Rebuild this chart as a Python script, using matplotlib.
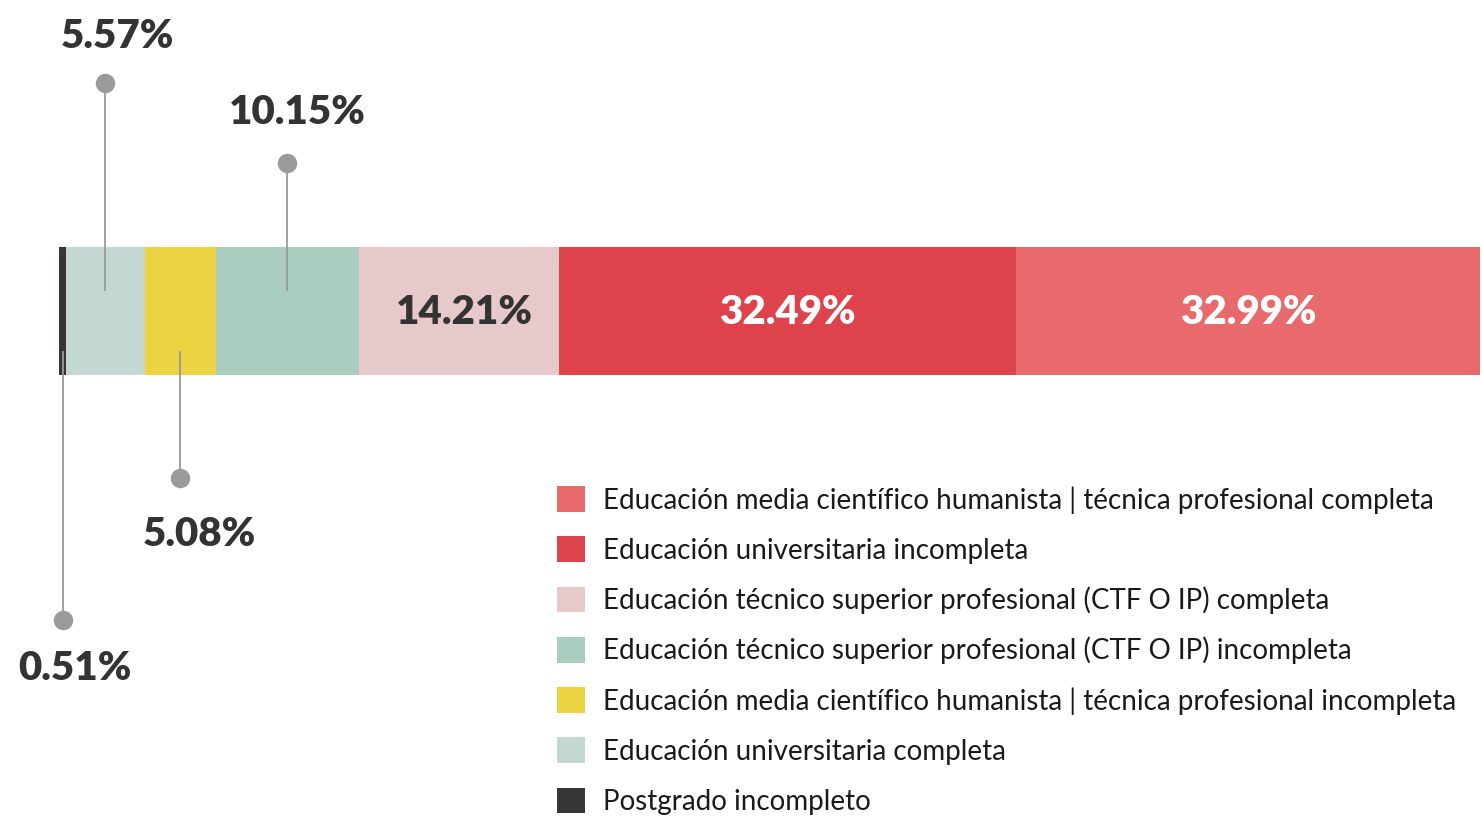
import numpy as np
import matplotlib
matplotlib.use("Agg")
import matplotlib.pyplot as plt
from matplotlib.patches import Patch

plt.rcParams['font.family'] = ['Lato', 'DejaVu Sans']

# segment values, left to right
shares = [0.51, 5.57, 5.08, 10.15, 14.21, 32.49, 32.99]
labels = ['Postgrado incompleto',
          'Educación universitaria completa',
          'Educación media científico humanista | técnica profesional incompleta',
          'Educación técnico superior profesional (CTF O IP) incompleta',
          'Educación técnico superior profesional (CTF O IP) completa',
          'Educación universitaria incompleta',
          'Educación media científico humanista | técnica profesional completa']
colors = ['#373634', '#c3d8d2', '#ebd342', '#a9cdbf',
          '#e8c9cb', '#de434c', '#e86a6c']

W, H = 1482, 816
fig = plt.figure(figsize=(W / 100, H / 100), dpi=100)
# axes spans the bar horizontally, y axis in pixel-like units top-down
ax = fig.add_axes([59 / W, 0, 1421 / W, 1])
ax.set_xlim(0, sum(shares))
ax.set_ylim(H, 0)
ax.axis('off')

left = np.concatenate([[0], np.cumsum(shares)[:-1]])
centers = left + np.array(shares) / 2
ax.barh(311, shares, left=left, height=128, color=colors, linewidth=0)

# callouts: (segment index, line start y, dot y, label dx, label dy)
callouts = [(1, 290, 83, 12, 47),
            (3, 290, 163, 10, 51),
            (2, 352, 478, 19, -56),
            (0, 352, 620, 12, -48)]
for i, y0, yd, dx, dy in callouts:
    ax.plot([centers[i], centers[i]], [y0, yd], color='#9a9a9a', lw=1.3,
            zorder=3, clip_on=False)
    ax.plot(centers[i], yd, 'o', color='#9a9a9a', ms=14, mew=0, zorder=4,
            clip_on=False)
    ax.annotate(f'{shares[i]:.2f}%', xy=(centers[i], yd), xytext=(dx, dy),
                textcoords='offset pixels', ha='center', va='center',
                fontsize=29, fontweight='heavy', color='#333333')

# labels inside the bar
for i, tc in [(4, '#333333'), (5, 'white'), (6, 'white')]:
    ax.text(centers[i] + (0.4 if i == 4 else 0), 312, f'{shares[i]:.2f}%',
            ha='center', va='center', fontsize=29, fontweight='heavy',
            color=tc)

handles = [Patch(facecolor=c, edgecolor='none') for c in colors]
leg = fig.legend(handles[::-1], labels[::-1], loc='upper left',
                 bbox_to_anchor=(557 / W, 1 - 486 / H), frameon=False,
                 fontsize=20, handlelength=1.0, handleheight=1.05,
                 handletextpad=0.65, labelspacing=0.82, borderpad=0,
                 borderaxespad=0)
for t in leg.get_texts():
    t.set_color('#1a1a1a')

fig.savefig('out.png', dpi=100)
